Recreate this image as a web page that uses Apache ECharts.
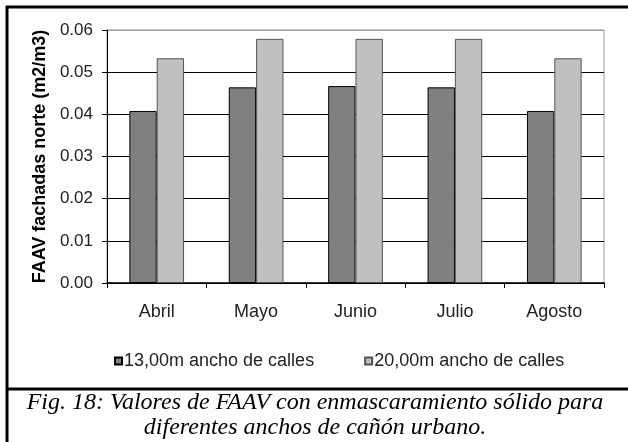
<!DOCTYPE html>
<html>
<head>
<meta charset="utf-8">
<script src="https://cdn.jsdelivr.net/npm/echarts@6/dist/echarts.min.js"></script>
<style>
  html, body { margin: 0; padding: 0; background: #fff; }
  #main { width: 628px; height: 442px; }
</style>
</head>
<body>
<div id="main"></div>
<script>
// datos
var meses = ['Abril', 'Mayo', 'Junio', 'Julio', 'Agosto'];
var calles13 = [0.0408, 0.0464, 0.0467, 0.0464, 0.0408];
var calles20 = [0.0533, 0.0579, 0.0579, 0.0579, 0.0533];
var nombres = ['13,00m ancho de calles', '20,00m ancho de calles'];

var myChart = echarts.init(document.getElementById('main'));

var option = {
    animation: false,
    title: {
        text: 'Fig. 18: Valores de FAAV con enmascaramiento sólido para\ndiferentes anchos de cañón urbano.',
        left: 315,
        top: 390,
        padding: 0,
        textAlign: 'center',
        textStyle: {
            fontFamily: 'Liberation Serif',
            fontStyle: 'italic',
            fontWeight: 'normal',
            fontSize: 24,
            lineHeight: 25,
            color: '#000'
        }
    },
    legend: {
        left: 114,
        top: 352,
        padding: 0,
        icon: 'rect',
        itemWidth: 7,
        itemHeight: 7,
        itemGap: 50,
        textStyle: {
            fontFamily: 'Liberation Sans',
            fontSize: 18,
            color: '#222',
            padding: [0, 0, 0, -3]
        },
        data: nombres
    },
    grid: {
        left: 107,
        right: 24,
        top: 30,
        bottom: 159,
        show: true,
        borderColor: '#999',
        borderWidth: 1
    },
    xAxis: {
        type: 'category',
        data: meses,
        axisLine: { lineStyle: { color: '#000', width: 1.5 } },
        axisTick: { show: true, inside: false, length: 5, lineStyle: { color: '#000' } },
        axisLabel: {
            margin: 20,
            fontFamily: 'Liberation Sans',
            fontSize: 18,
            color: '#222'
        }
    },
    yAxis: {
        type: 'value',
        min: 0,
        max: 0.06,
        interval: 0.01,
        name: 'FAAV fachadas norte (m2/m3)',
        nameLocation: 'middle',
        nameGap: 58,
        nameTextStyle: {
            fontFamily: 'Liberation Sans',
            fontWeight: 'bold',
            fontSize: 18,
            color: '#000'
        },
        axisLine: { show: true, lineStyle: { color: '#000', width: 1 } },
        axisTick: { show: true, length: 5, lineStyle: { color: '#000' } },
        axisLabel: {
            margin: 14,
            fontFamily: 'Liberation Sans',
            fontSize: 17,
            color: '#222',
            formatter: function (v) { return v.toFixed(2); }
        },
        splitLine: {
            lineStyle: {
                color: ['#000', '#000', '#000', '#000', '#000', '#000', '#999'],
                width: 1
            }
        }
    },
    series: [
        {
            name: nombres[0],
            type: 'bar',
            data: calles13,
            barGap: '0%',
            barCategoryGap: '45%',
            itemStyle: { color: '#808080', borderColor: '#000', borderWidth: 1 }
        },
        {
            name: nombres[1],
            type: 'bar',
            data: calles20,
            itemStyle: { color: '#c0c0c0', borderColor: '#555', borderWidth: 1 }
        }
    ],
    graphic: [
        // marco de la figura
        { type: 'line', shape: { x1: 7, y1: 6, x2: 7, y2: 442 }, style: { stroke: '#000', lineWidth: 3 } },
        { type: 'line', shape: { x1: 6, y1: 7, x2: 628, y2: 7 }, style: { stroke: '#000', lineWidth: 3 } },
        { type: 'line', shape: { x1: 6, y1: 389, x2: 628, y2: 389 }, style: { stroke: '#000', lineWidth: 3 } }
    ]
};

myChart.setOption(option);
</script>
</body>
</html>
